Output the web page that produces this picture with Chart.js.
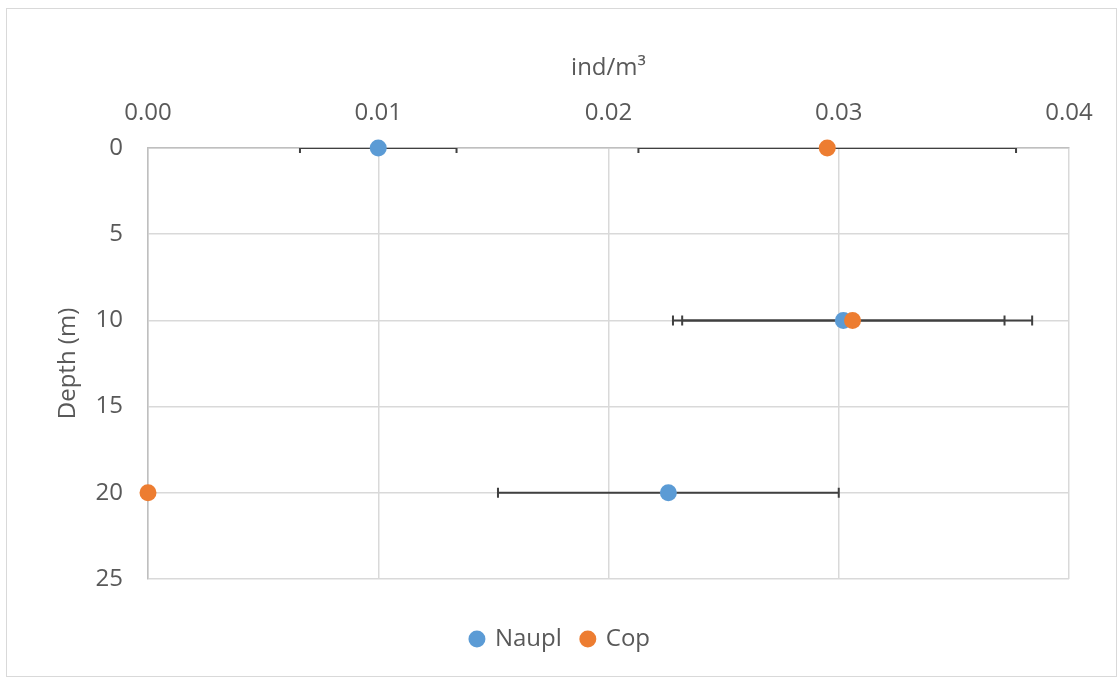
<!DOCTYPE html>
<html>
<head>
<meta charset="utf-8">
<script src="https://cdn.jsdelivr.net/npm/chart.js@4.4.1/dist/chart.umd.min.js"></script>
<style>
  body { margin: 0; background: #fff; }
  #caixa {
    position: absolute; left: 6px; top: 8px;
    width: 1109px; height: 667px;
    border: 1px solid #d9d9d9;
  }
</style>
</head>
<body>
<div id="caixa"><canvas id="grafico"></canvas></div>
<script>
// profundidades (m) e medias com erro (ind/m³)
const profundidades = [0, 10, 20];
const nauplMedia = [0.0100, 0.0302, 0.0226];
const nauplErro  = [0.0034, 0.0070, 0.0074];
const copMedia   = [0.0295, 0.0306, 0.0000];
const copErro    = [0.0082, 0.0078, 0.0000];
const ticksX = [0, 0.01, 0.02, 0.03, 0.04];
const ticksY = [0, 5, 10, 15, 20, 25];

const corTexto = '#595959';
const fonte = { family: 'Open Sans', size: 24 };

function montarPontos(medias, erros) {
    return profundidades.map((p, i) => ({ x: medias[i], y: p, erro: erros[i] }));
}

// barras de erro horizontais, desenhadas atras dos pontos
const pluginErro = {
    id: 'barrasErro',
    beforeDatasetsDraw(chart) {
        const ctx = chart.ctx;
        const sx = chart.scales.x, sy = chart.scales.y;
        const area = chart.chartArea;
        ctx.save();
        ctx.beginPath();
        ctx.rect(area.left, area.top, area.right - area.left, area.bottom - area.top);
        ctx.clip();
        ctx.strokeStyle = '#404040';
        ctx.lineWidth = 2;
        chart.data.datasets.forEach(ds => {
            ds.data.forEach(pt => {
                if (!pt.erro) return;
                const y = sy.getPixelForValue(pt.y);
                const x1 = sx.getPixelForValue(pt.x - pt.erro);
                const x2 = sx.getPixelForValue(pt.x + pt.erro);
                ctx.beginPath();
                ctx.moveTo(x1, y); ctx.lineTo(x2, y);
                ctx.moveTo(x1, y - 5); ctx.lineTo(x1, y + 5);
                ctx.moveTo(x2, y - 5); ctx.lineTo(x2, y + 5);
                ctx.stroke();
            });
        });
        ctx.restore();
    }
};

new Chart(document.getElementById('grafico'), {
    type: 'scatter',
    data: {
        datasets: [
            {
                label: 'Naupl',
                data: montarPontos(nauplMedia, nauplErro),
                backgroundColor: '#5B9BD5',
                borderWidth: 0,
                pointRadius: 8.5,
                pointStyle: 'circle',
                clip: false,
                order: 1
            },
            {
                label: 'Cop',
                data: montarPontos(copMedia, copErro),
                backgroundColor: '#ED7D31',
                borderWidth: 0,
                pointRadius: 8.5,
                pointStyle: 'circle',
                clip: false,
                order: 0
            }
        ]
    },
    options: {
        responsive: true,
        maintainAspectRatio: false,
        animation: false,
        layout: { padding: { left: 45, top: 30, right: 47, bottom: 15 } },
        scales: {
            x: {
                type: 'linear',
                position: 'top',
                min: 0, max: 0.04,
                afterBuildTicks: s => { s.ticks = ticksX.map(v => ({ value: v })); },
                afterFit: s => { s.height = 109; },
                ticks: {
                    color: corTexto, font: fonte, padding: 20,
                    callback: v => v.toFixed(2)
                },
                grid: { color: '#d9d9d9', lineWidth: 1.5, drawTicks: false },
                border: { color: '#bfbfbf', width: 1.5 },
                title: {
                    display: true, text: 'ind/m³', color: corTexto, font: fonte,
                    padding: { top: 15, bottom: 0 }
                }
            },
            y: {
                type: 'linear',
                reverse: true,
                min: 0, max: 25,
                afterBuildTicks: s => { s.ticks = ticksY.map(v => ({ value: v })); },
                afterFit: s => { s.width = 96; },
                ticks: { color: corTexto, font: fonte, padding: 25 },
                grid: { color: '#d9d9d9', lineWidth: 1.5, drawTicks: false },
                border: { color: '#bfbfbf', width: 1.5 },
                title: {
                    display: true, text: 'Depth (m)', color: corTexto, font: fonte,
                    padding: { top: 2, bottom: 0 }
                }
            }
        },
        plugins: {
            tooltip: { enabled: false },
            legend: {
                position: 'bottom',
                title: { display: true, text: ' ', font: { size: 10 }, padding: { top: 16, bottom: 0 } },
                labels: {
                    usePointStyle: true,
                    boxWidth: 12, boxHeight: 12,
                    padding: 20,
                    color: corTexto, font: fonte,
                    sort: (a, b) => a.datasetIndex - b.datasetIndex
                }
            }
        }
    },
    plugins: [pluginErro]
});
</script>
</body>
</html>
